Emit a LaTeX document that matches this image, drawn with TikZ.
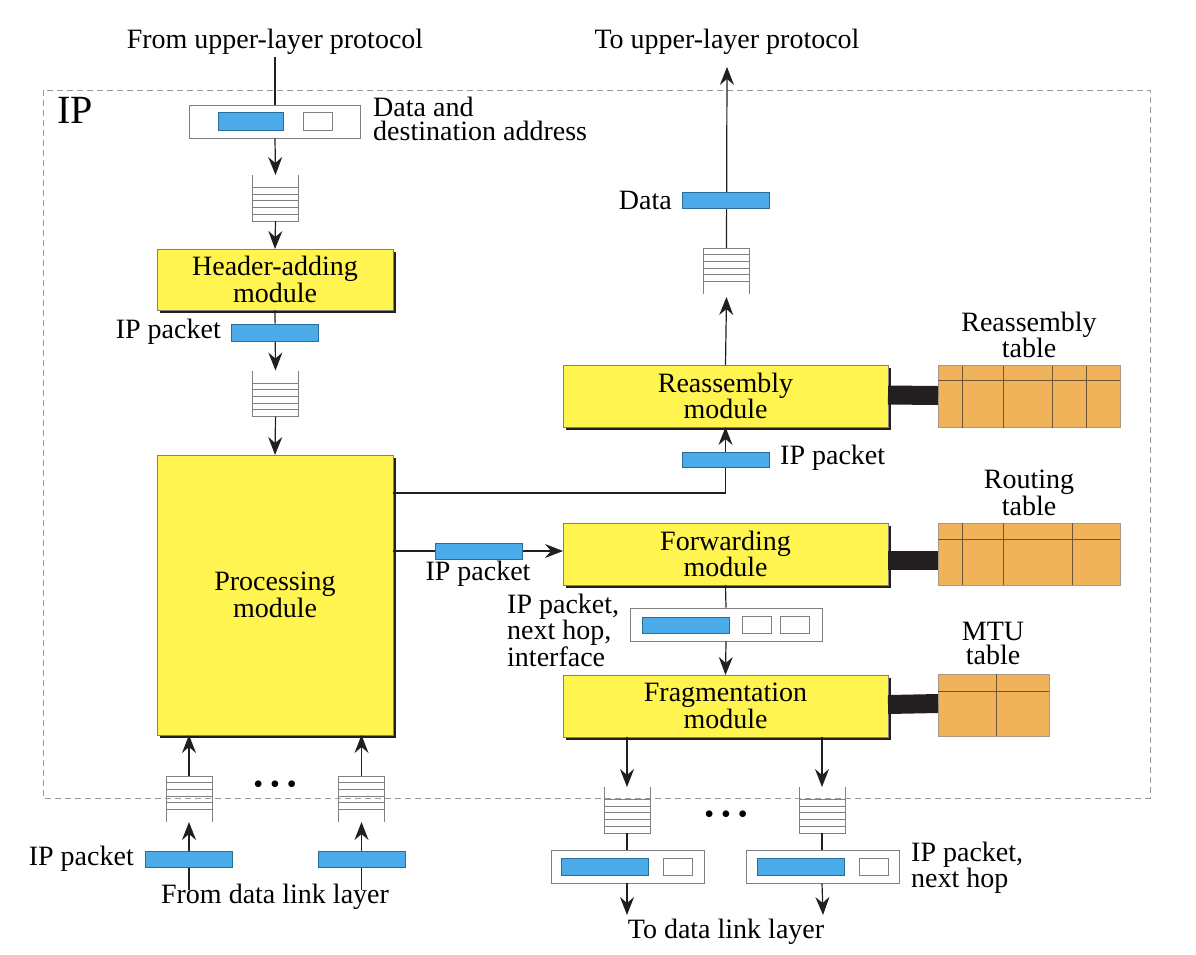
\documentclass[tikz,border=0pt]{standalone}
\usepackage{fontspec}
\setmainfont{Liberation Serif}
\usetikzlibrary{arrows.meta,shadows}

\definecolor{modyellow}{HTML}{FFF450}
\definecolor{pktblue}{HTML}{4BABE8}
\definecolor{pktedge}{HTML}{2C6C9A}
\definecolor{taborange}{HTML}{F0B35A}
\definecolor{tabedge}{HTML}{6E5535}
\definecolor{linec}{HTML}{231F20}
\definecolor{boxgray}{HTML}{808080}

\begin{document}
\begin{tikzpicture}[x=1pt,y=-1pt,every node/.style={font=\fontsize{28}{24}\selectfont}]
\tikzstyle{module} = [rectangle, fill=modyellow, draw=boxgray, line width=0.8pt, align=center, inner sep=0pt, outer sep=0pt, drop shadow={shadow xshift=2.5pt, shadow yshift=-2.5pt, fill=linec, opacity=1}]
\tikzstyle{packet} = [rectangle, fill=pktblue, draw=pktedge, line width=0.6pt, minimum width=87pt, minimum height=16pt, inner sep=0pt]
\tikzstyle{addr} = [rectangle, fill=white, draw=boxgray, line width=0.8pt, minimum width=29pt, minimum height=17pt, inner sep=0pt]
\tikzstyle{holder} = [rectangle, fill=white, draw=boxgray, line width=0.8pt, minimum height=33pt, inner sep=0pt]
\tikzstyle{queue} = [rectangle, minimum width=46pt, minimum height=46pt, inner sep=0pt, outer sep=0pt]
\tikzstyle{queueline} = [draw=boxgray, line width=0.9pt]
\tikzstyle{table} = [rectangle, fill=taborange, draw=tabedge!60, line width=0.6pt, minimum height=62pt, inner sep=0pt, outer sep=0pt]
\tikzstyle{tabline} = [draw=tabedge, line width=0.6pt]
\tikzstyle{bar} = [draw=linec, line width=19pt]
\tikzstyle{arrow} = [draw=linec, line width=1.2pt, -{Stealth[length=18pt,width=14pt,inset=6pt]}]
\tikzstyle{wire} = [draw=linec, line width=1.2pt]
\tikzstyle{label} = [inner sep=0pt, align=left]

\useasboundingbox (0,0) rectangle (1196,954);

% IP frame
\draw[draw=boxgray!80, line width=0.9pt, dash pattern=on 6pt off 4pt] (43,90) rectangle (1150,798);
\node(ipLabel) [font=\fontsize{40}{40}\selectfont, inner sep=0pt] at (75,110) {IP};

% outer texts
\node(fromUpper) [label] at (275,42) {From upper-layer protocol};
\node(toUpper) [label] at (727,42) {To upper-layer protocol};
\node(fromLink) [label] at (275,897) {From data link layer};
\node(toLink) [label] at (726,932) {To data link layer};

% modules
\node(header) [module, minimum width=236pt, minimum height=61pt] at (275,279.5) {Header-adding\\module};
\node(proc) [module, minimum width=236pt, minimum height=280pt] at (275,595) {Processing\\module};
\node(reasm) [module, minimum width=325pt, minimum height=62pt] at (725.5,396) {Reassembly\\module};
\node(forward) [module, minimum width=325pt, minimum height=62pt] at (725.5,554) {Forwarding\\module};
\node(frag) [module, minimum width=325pt, minimum height=62pt] at (725.5,706) {Fragmentation\\module};

% queues
\node(q1) [queue] at (275.5,198) {};
\node(q2) [queue] at (275.5,393.5) {};
\node(q3) [queue] at (189,799) {};
\node(q4) [queue] at (361.5,799) {};
\node(q5) [queue] at (726.5,271) {};
\node(q6) [queue] at (627,810) {};
\node(q7) [queue] at (822,810) {};
\foreach \q in {q1,q2,q6,q7} {
  \draw[queueline] (\q.north west) -- (\q.south west) -- (\q.south east) -- (\q.north east);
  \foreach \d in {12.5,19.2,25.9,32.6,39.3}
    \draw[queueline] ([yshift=-\d pt]\q.north west) -- ([yshift=-\d pt]\q.north east);
}
\foreach \q in {q3,q4,q5} {
  \draw[queueline] (\q.south west) -- (\q.north west) -- (\q.north east) -- (\q.south east);
  \foreach \d in {6.7,13.4,20.1,26.8,33.5}
    \draw[queueline] ([yshift=-\d pt]\q.north west) -- ([yshift=-\d pt]\q.north east);
}

% holders
\node(ddBox) [holder, minimum width=171pt] at (275,121.5) {};
\node(fwdBox) [holder, minimum width=192pt] at (726,624.5) {};
\node(outBox1) [holder, minimum width=153pt] at (627.5,866.5) {};
\node(outBox2) [holder, minimum width=153pt] at (823,866.5) {};

% tables
\node(reasmTab) [table, minimum width=182pt] at (1029,396.5) {};
\node(routeTab) [table, minimum width=182pt] at (1029,554) {};
\node(mtuTab) [table, minimum width=111pt] at (993.5,705) {};
\draw[tabline] ([yshift=-15pt]reasmTab.north west) -- ([yshift=-15pt]reasmTab.north east);
\foreach \c in {24,65,114,148}
  \draw[tabline] ([xshift=\c pt]reasmTab.north west) -- ([xshift=\c pt]reasmTab.south west);
\draw[tabline] ([yshift=-16pt]routeTab.north west) -- ([yshift=-16pt]routeTab.north east);
\foreach \c in {24,65,134}
  \draw[tabline] ([xshift=\c pt]routeTab.north west) -- ([xshift=\c pt]routeTab.south west);
\draw[tabline] ([yshift=-17pt]mtuTab.north west) -- ([yshift=-17pt]mtuTab.north east);
\draw[tabline] ([xshift=58pt]mtuTab.north west) -- ([xshift=58pt]mtuTab.south west);

\node(reasmTabLabel) [align=center, inner sep=0pt] at (1029,335) {Reassembly\\table};
\node(routeTabLabel) [align=center, inner sep=0pt] at (1029,493) {Routing\\table};
\node(mtuTabLabel) [align=center, inner sep=0pt] at (993,643) {MTU\\table};

\draw[bar] ([yshift=1pt]reasm.east) -- ([yshift=1pt]reasmTab.west);
\draw[bar] ([yshift=-6pt]forward.east) -- ([yshift=-6pt]routeTab.west);
\draw[bar] ([yshift=1.5pt]frag.east) -- ([yshift=1.5pt]mtuTab.west);

% connectors, left path
\draw[wire] ([yshift=-2pt]fromUpper.south) -- (ddBox.north);
\draw[arrow] (ddBox.south) -- (q1.north);
\draw[arrow] (q1.south) -- (header.north);
\draw[arrow] (header.south) -- (q2.north);
\draw[arrow] (q2.south) -- (proc.north);
\coordinate(in1) at (189,890);
\coordinate(in2) at (361.5,890);
\draw[arrow] (in1) -- (q3.south);
\draw[arrow] (in2) -- (q4.south);
\draw[arrow] (q3.north) -- (q3.north |- proc.south);
\draw[arrow] (q4.north) -- (q4.north |- proc.south);

% connectors, right path
\draw[arrow] ([yshift=102pt]proc.east) -| (reasm.south);
\draw[arrow] (reasm.north) -- ([yshift=-3pt]q5.south);
\draw[arrow] (q5.north) -- ([yshift=-12pt]toUpper.south);
\draw[arrow] ([yshift=44pt]proc.east) -- ([yshift=3pt]forward.west);
\draw[wire] (forward.south) -- (fwdBox.north);
\draw[arrow] (fwdBox.south) -- (frag.north);
\draw[arrow] (q6.north |- frag.south) -- (q6.north);
\draw[arrow] (q7.north |- frag.south) -- (q7.north);
\draw[wire] (q6.south) -- (q6.south |- outBox1.north);
\draw[wire] (q7.south) -- (q7.south |- outBox2.north);
\coordinate(out1) at (627,915);
\coordinate(out2) at (823,915);
\draw[arrow] (outBox1.south -| q6.south) -- (out1);
\draw[arrow] (outBox2.south -| q7.south) -- (out2);

% packets
\node(ddData) [packet, minimum width=65pt, minimum height=18pt] at (250.5,121) {};
\node(ddAddr) [addr, minimum height=18pt] at (317.5,121) {};
\node(pkt1) [packet, minimum height=17pt] at (275,332.5) {};
\node(pkt3) [packet] at (188.5,859) {};
\node(pkt4) [packet] at (361.5,859) {};
\node(dataPkt) [packet] at (726,200) {};
\node(pkt5) [packet, minimum height=15pt] at (726,459.5) {};
\node(pkt6) [packet] at (478.5,551) {};
\node(fwdData) [packet] at (685.5,625) {};
\node(fwdHop) [addr] at (756.5,625) {};
\node(fwdIf) [addr] at (794.5,625) {};
\node(outData1) [packet, minimum height=17pt] at (604.5,866.5) {};
\node(outHop1) [addr] at (678,866.5) {};
\node(outData2) [packet, minimum height=17pt] at (800.5,866.5) {};
\node(outHop2) [addr] at (874,866.5) {};

% labels
\node(ddLabel) [label, anchor=west] at (373,119) {Data and\\destination address};
\node(pkt1Label) [label, anchor=east] at (221,332) {IP packet};
\node(inLabel) [label, anchor=east] at (134,859) {IP packet};
\node(dataLabel) [label, anchor=east] at (672,200) {Data};
\node(pkt5Label) [label, anchor=west] at (780,458) {IP packet};
\node(pkt6Label) [label] at (478,574) {IP packet};
\node(fwdLabel) [label, anchor=west] at (507,630) {IP packet,\\next hop,\\interface};
\node(outLabel) [label, anchor=west] at (911,868) {IP packet,\\next hop};
\node(dotsIn) [inner sep=0pt] at (275,787) {\textbullet\ \textbullet\ \textbullet};
\node(dotsOut) [inner sep=0pt] at (726,817) {\textbullet\ \textbullet\ \textbullet};
\end{tikzpicture}
\end{document}
